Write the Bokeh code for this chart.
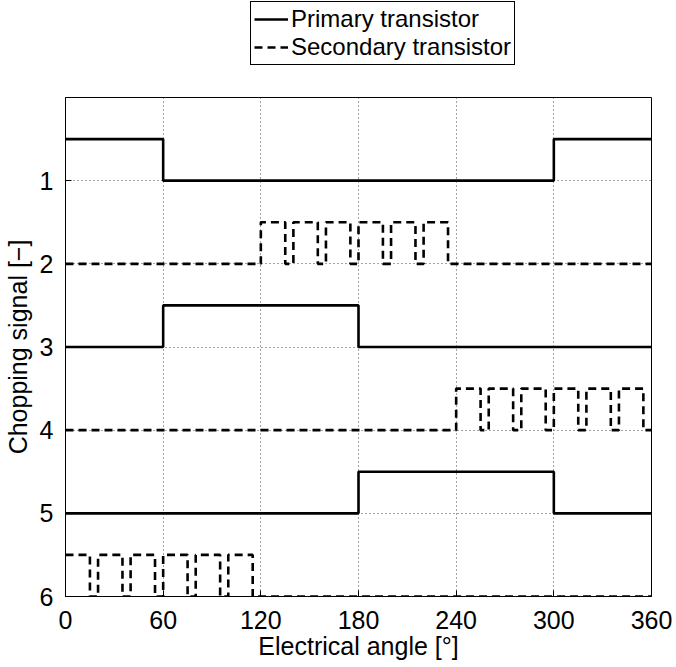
from bokeh.plotting import figure
from bokeh.models import Range1d, FixedTicker, Legend, LegendItem
from bokeh.layouts import column
from bokeh.embed import file_html
from bokeh.resources import INLINE

# ---- data ----
sector_edges = [0, 60, 120, 180, 240, 300, 360]
p1_state = [1, 0, 0, 0, 0, 1]
p3_state = [0, 1, 1, 0, 0, 0]
p5_state = [0, 0, 0, 1, 1, 0]
p1_base, p3_base, p5_base = 1, 3, 5

s2_window = 120
s4_window = 240
s6_window = 0
s2_base, s4_base, s6_base = 2, 4, 6
chop_edges = [0, 15, 20, 35, 40, 55, 60, 75, 80, 95, 100, 115, 120]
chop_state = [1, 0, 1, 0, 1, 0, 1, 0, 1, 0, 1, 0]
high_offset = 0.5

x_ticks = [0, 60, 120, 180, 240, 300, 360]
y_ticks = [1, 2, 3, 4, 5, 6]
legend_labels = ["Primary transistor", "Secondary transistor"]


def step_xy(edges, states, base):
    xs, ys = [], []
    for i, s in enumerate(states):
        y = base - high_offset * s
        xs += [edges[i], edges[i + 1]]
        ys += [y, y]
    return xs, ys


def chopped(window_start, base):
    edges = [0]
    states = []
    if window_start > 0:
        edges.append(window_start)
        states.append(0)
    for i, s in enumerate(chop_state):
        edges.append(window_start + chop_edges[i + 1])
        states.append(s)
    if edges[-1] < 360:
        edges.append(360)
        states.append(0)
    return step_xy(edges, states, base)


FONT = "Liberation Sans"
FS = "25px"
LW = 2.6
DASH = "8 5"
NAN = float("nan")

# ---- main plot ----
p = figure(frame_width=586, frame_height=499,
           x_range=Range1d(0, 360), y_range=Range1d(6, 0),
           output_backend="svg", toolbar_location=None,
           min_border_left=65, min_border_right=25,
           min_border_top=0, min_border_bottom=70)
p.background_fill_color = "white"
p.border_fill_color = "white"
p.outline_line_color = "black"
p.outline_line_width = 1

for ax in (p.xaxis[0], p.yaxis[0]):
    ax.major_label_text_font = FONT
    ax.major_label_text_font_size = FS
    ax.major_label_text_color = "black"
    ax.axis_label_text_font = FONT
    ax.axis_label_text_font_size = FS
    ax.axis_label_text_font_style = "normal"
    ax.axis_label_text_color = "black"
    ax.major_tick_in = 6
    ax.major_tick_out = 0
    ax.minor_tick_in = 0
    ax.minor_tick_out = 0
    ax.axis_line_color = "black"
    ax.major_tick_line_color = "black"

p.xaxis[0].ticker = FixedTicker(ticks=x_ticks)
p.yaxis[0].ticker = FixedTicker(ticks=y_ticks)
p.xaxis[0].axis_label = "Electrical angle [°]"
p.yaxis[0].axis_label = "Chopping signal [−]"
p.xaxis[0].major_label_standoff = 14
p.xaxis[0].axis_label_standoff = 0
p.yaxis[0].major_label_standoff = 12
p.yaxis[0].axis_label_standoff = 5

p.xgrid.ticker = FixedTicker(ticks=x_ticks)
p.ygrid.ticker = FixedTicker(ticks=y_ticks)
for g in (p.xgrid[0], p.ygrid[0]):
    g.grid_line_color = "#444444"
    g.grid_line_dash = "1 3"
    g.grid_line_width = 1

for st, b in ((p1_state, p1_base), (p3_state, p3_base), (p5_state, p5_base)):
    xs, ys = step_xy(sector_edges, st, b)
    p.line(xs, ys, line_color="black", line_width=LW)
for w, b in ((s2_window, s2_base), (s4_window, s4_base), (s6_window, s6_base)):
    xs, ys = chopped(w, b)
    p.line(xs, ys, line_color="black", line_width=LW, line_dash=DASH)

# ---- legend strip (separate figure above the plot) ----
lf = figure(width=676, height=97, x_range=Range1d(0, 1), y_range=Range1d(0, 1),
            x_axis_type=None, y_axis_type=None, output_backend="svg",
            toolbar_location=None, min_border=0)
lf.outline_line_color = None
lf.xgrid.visible = False
lf.ygrid.visible = False
r_prim = lf.line([NAN, NAN], [NAN, NAN], line_color="black", line_width=LW)
r_sec = lf.line([NAN, NAN], [NAN, NAN], line_color="black", line_width=LW, line_dash=DASH)

legend = Legend(items=[LegendItem(label=legend_labels[0], renderers=[r_prim]),
                       LegendItem(label=legend_labels[1], renderers=[r_sec])],
                location=(185, 32), orientation="vertical")
legend.label_text_font = FONT
legend.label_text_font_size = "24px"
legend.label_text_color = "black"
legend.border_line_color = "black"
legend.border_line_width = 1
legend.border_line_alpha = 1
legend.glyph_width = 34
legend.glyph_height = 22
legend.label_height = 22
legend.label_standoff = 3
legend.spacing = 0
legend.padding = 3
legend.margin = 0
lf.add_layout(legend, "center")

layout = column(lf, p, spacing=0)
open("out.html", "w").write(file_html(layout, INLINE))
